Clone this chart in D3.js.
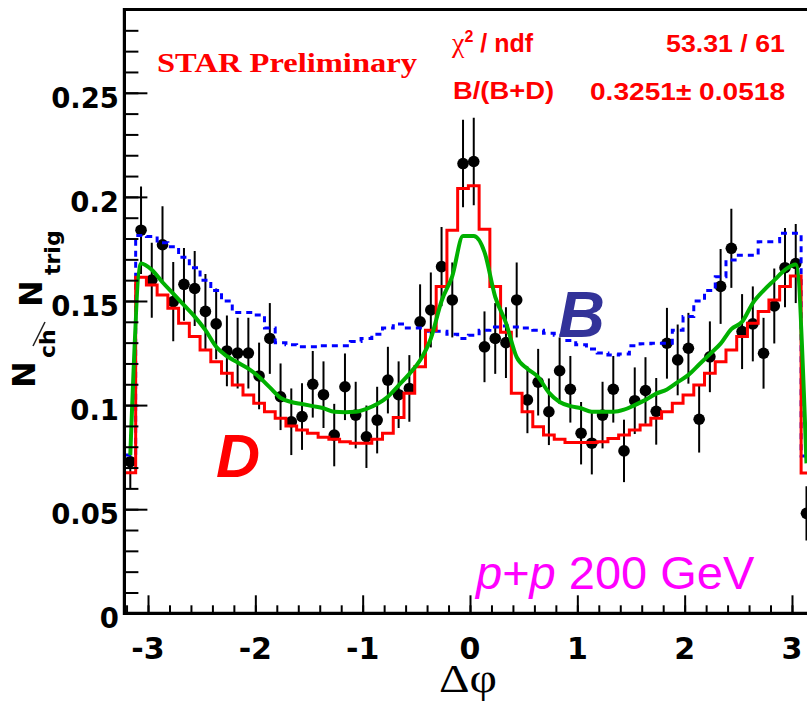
<!DOCTYPE html>
<html>
<head>
<meta charset="utf-8">
<script src="https://cdn.jsdelivr.net/npm/d3@7"></script>
<style>
  body { margin: 0; background: #fff; }
  svg { display: block; }
</style>
</head>
<body>
<div id="chart"></div>
<script>
// bin centres in delta phi (0.1 rad bins)
var phi = [-3.165, -3.065, -2.965, -2.865, -2.765, -2.665, -2.565, -2.465, -2.365, -2.265,
           -2.165, -2.065, -1.965, -1.865, -1.765, -1.665, -1.565, -1.465, -1.365, -1.265,
           -1.165, -1.065, -0.965, -0.865, -0.765, -0.665, -0.565, -0.465, -0.365, -0.265,
           -0.165, -0.065, 0.035, 0.135, 0.235, 0.335, 0.435, 0.535, 0.635, 0.735,
           0.835, 0.935, 1.035, 1.135, 1.235, 1.335, 1.435, 1.535, 1.635, 1.735,
           1.835, 1.935, 2.035, 2.135, 2.235, 2.335, 2.435, 2.535, 2.635, 2.735,
           2.835, 2.935, 3.035, 3.135];
var binW = 0.1;

// measured points + errors
var dataVal = [0.0728, 0.184, 0.160, 0.177, 0.1497, 0.158, 0.156, 0.145, 0.139, 0.126,
               0.125, 0.125, 0.114, 0.132, 0.104, 0.092, 0.0945, 0.110, 0.105, 0.0856,
               0.1088, 0.0952, 0.0848, 0.0928, 0.112, 0.105, 0.108, 0.140, 0.1457, 0.1665,
               0.1505, 0.216, 0.217, 0.128, 0.132, 0.130, 0.1505, 0.1025, 0.111, 0.0968,
               0.1165, 0.1076, 0.0865, 0.0817, 0.0952, 0.1076, 0.078, 0.1021, 0.107, 0.097,
               0.1297, 0.1217, 0.1273, 0.0932, 0.1232, 0.157, 0.1753, 0.1353, 0.139, 0.1249,
               0.1476, 0.166, 0.168, 0.048];
var dataErr = [0.013, 0.021, 0.018, 0.0185, 0.019, 0.0175, 0.018, 0.018, 0.017, 0.017,
               0.017, 0.017, 0.016, 0.017, 0.016, 0.016, 0.016, 0.016, 0.016, 0.015,
               0.016, 0.016, 0.015, 0.016, 0.016, 0.016, 0.016, 0.018, 0.018, 0.019,
               0.018, 0.021, 0.021, 0.017, 0.017, 0.017, 0.018, 0.016, 0.016, 0.016,
               0.016, 0.016, 0.015, 0.015, 0.016, 0.016, 0.015, 0.016, 0.016, 0.016,
               0.017, 0.017, 0.017, 0.016, 0.017, 0.018, 0.019, 0.018, 0.018, 0.017,
               0.018, 0.019, 0.019, 0.013];

// D component (red histogram)
var histD = [0.0675, 0.1614, 0.1577, 0.1529, 0.1465, 0.1393, 0.1329, 0.1265, 0.1208, 0.1153,
             0.1097, 0.1049, 0.1009, 0.0968, 0.0937, 0.0900, 0.0880, 0.0865, 0.0845, 0.0836,
             0.0824, 0.0817, 0.0817, 0.0836, 0.0865, 0.0940, 0.1057, 0.1184, 0.136, 0.157,
             0.184, 0.204, 0.2054, 0.1844, 0.157, 0.135, 0.1057, 0.0968, 0.0896, 0.0856,
             0.0836, 0.0820, 0.0820, 0.0820, 0.0824, 0.0840, 0.0856, 0.0880, 0.0904, 0.0937,
             0.0968, 0.1009, 0.1049, 0.1097, 0.1153, 0.1208, 0.1265, 0.1329, 0.1393, 0.1450,
             0.1505, 0.157, 0.162, 0.0674];

// B component (blue dashed histogram)
var histB = [0.076, 0.1815, 0.181, 0.178, 0.176, 0.171, 0.166, 0.160, 0.155, 0.150,
             0.1445, 0.1445, 0.1433, 0.137, 0.130, 0.129, 0.128, 0.128, 0.1285, 0.1285,
             0.1285, 0.1305, 0.132, 0.134, 0.137, 0.139, 0.137, 0.137, 0.1355, 0.1355,
             0.134, 0.132, 0.1335, 0.136, 0.1375, 0.138, 0.1375, 0.137, 0.136, 0.1345,
             0.1335, 0.131, 0.129, 0.127, 0.125, 0.124, 0.1245, 0.1285, 0.1295, 0.1297,
             0.1297, 0.136, 0.1425, 0.150, 0.155, 0.1617, 0.1697, 0.172, 0.172, 0.1785,
             0.1785, 0.1825, 0.1825, 0.0755];

// fit B+D (green)
var fitSum = [0.076, 0.168, 0.165, 0.159, 0.1535, 0.148, 0.1425, 0.136, 0.128, 0.1235,
              0.1205, 0.1175, 0.1135, 0.1085, 0.1035, 0.1015, 0.1005, 0.0995, 0.0985, 0.0968,
              0.0966, 0.0968, 0.0982, 0.1005, 0.104, 0.1095, 0.115, 0.1215, 0.132, 0.150,
              0.162, 0.1812, 0.1812, 0.1735, 0.152, 0.1395, 0.123, 0.1175, 0.1135, 0.106,
              0.1015, 0.0995, 0.0985, 0.0968, 0.0968, 0.0968, 0.0978, 0.100, 0.1025, 0.1055,
              0.1075, 0.111, 0.1145, 0.1195, 0.1245, 0.1295, 0.1365, 0.140, 0.149, 0.155,
              0.160, 0.165, 0.1675, 0.072];

var yTicks = [0, 0.05, 0.1, 0.15, 0.2, 0.25];
var yTickLabels = ["0", "0.05", "0.1", "0.15", "0.2", "0.25"];
var xTicks = [-3, -2, -1, 0, 1, 2, 3];
var xTickLabels = ["-3", "-2", "-1", "0", "1", "2", "3"];

var W = 807, H = 705;
var svg = d3.select("#chart").append("svg")
    .attr("width", W)
    .attr("height", H)
    .style("background", "#fff");

var x = d3.scaleLinear().domain([-3.22, 3.22]).range([124.4, 815.6]);
var y = d3.scaleLinear().domain([0, 0.29]).range([613.3, 9.5]);

svg.append("clipPath").attr("id", "plotclip")
  .append("rect")
    .attr("x", x.range()[0]).attr("y", y.range()[1])
    .attr("width", x.range()[1] - x.range()[0])
    .attr("height", y.range()[0] - y.range()[1]);

var plot = svg.append("g").attr("clip-path", "url(#plotclip)");

//data points with error bars
var pts = phi.map(function(p, i){ return {p: p, v: dataVal[i], e: dataErr[i]}; });
plot.append("g").selectAll("line")
    .data(pts).enter().append("line")
      .attr("x1", function(d){ return x(d.p); })
      .attr("x2", function(d){ return x(d.p); })
      .attr("y1", function(d){ return y(d.v - d.e); })
      .attr("y2", function(d){ return y(d.v + d.e); })
      .attr("stroke", "#000")
      .attr("stroke-width", 2);
plot.append("g").selectAll("circle")
    .data(pts).enter().append("circle")
      .attr("cx", function(d){ return x(d.p); })
      .attr("cy", function(d){ return y(d.v); })
      .attr("r", 5.8)
      .attr("fill", "#000");

// histogram outline as steps
function stepPath(vals) {
    var p = [];
    vals.forEach(function(v, i){
        p.push([x(phi[i] - binW / 2), y(v)]);
        p.push([x(phi[i] + binW / 2), y(v)]);
    });
    return d3.line()(p);
}

plot.append("path")
    .attr("d", stepPath(histB))
    .attr("fill", "none")
    .attr("stroke", "#0000ff")
    .attr("stroke-width", 3)
    .attr("stroke-dasharray", "6,5");

plot.append("path")
    .attr("d", stepPath(histD))
    .attr("fill", "none")
    .attr("stroke", "#ff0000")
    .attr("stroke-width", 3);

var fitLine = d3.line()
    .x(function(d, i){ return x(phi[i]); })
    .y(function(d){ return y(d); })
    .curve(d3.curveMonotoneX);
plot.append("path")
    .attr("d", fitLine(fitSum))
    .attr("fill", "none")
    .attr("stroke", "#00b000")
    .attr("stroke-width", 4);

// y ticks (inside the frame)
var yMinor = d3.range(0, 0.2901, 0.01);
var yAxMinor = svg.append("g")
    .attr("transform", "translate(" + x.range()[0] + ",0)")
    .call(d3.axisRight(y).tickValues(yMinor).tickSize(14).tickFormat(""));
var yAxMajor = svg.append("g")
    .attr("transform", "translate(" + x.range()[0] + ",0)")
    .call(d3.axisRight(y).tickValues(yTicks).tickSize(23).tickFormat(""));

// x ticks (inside the frame)
var xMinor = d3.range(-3.2, 3.21, 0.2);
var xAxMinor = svg.append("g")
    .attr("transform", "translate(0," + y.range()[0] + ")")
    .call(d3.axisTop(x).tickValues(xMinor).tickSize(8).tickFormat(""));
var xAxMajor = svg.append("g")
    .attr("transform", "translate(0," + y.range()[0] + ")")
    .call(d3.axisTop(x).tickValues(xTicks).tickSize(18).tickFormat(""));

[yAxMinor, yAxMajor, xAxMinor, xAxMajor].forEach(function(g){
    g.select(".domain").remove();
    g.selectAll(".tick line").attr("stroke", "#000").attr("stroke-width", 2);
});

// frame
svg.append("path")
    .attr("d", "M" + W + "," + y.range()[1] + "H" + x.range()[0] + "V" + y.range()[0] + "H" + W)
    .attr("fill", "none")
    .attr("stroke", "#000")
    .attr("stroke-width", 3.2);

// tick labels
svg.append("g").selectAll("text")
    .data(yTicks).enter().append("text")
      .attr("x", 119)
      .attr("y", function(d){ return y(d) + 15; })
      .attr("text-anchor", "end")
      .style("font-family", "'DejaVu Sans', sans-serif")
      .style("font-weight", "bold")
      .style("font-size", "27.5px")
      .text(function(d, i){ return yTickLabels[i]; });

svg.append("g").selectAll("text")
    .data(xTicks).enter().append("text")
      .attr("x", function(d){ return x(d); })
      .attr("y", 659)
      .attr("text-anchor", "middle")
      .style("font-family", "'DejaVu Sans', sans-serif")
      .style("font-weight", "bold")
      .style("font-size", "30px")
      .text(function(d, i){ return xTickLabels[i]; });

// axis titles
svg.append("text")
    .attr("x", 468)
    .attr("y", 692)
    .attr("text-anchor", "middle")
    .attr("textLength", 58).attr("lengthAdjust", "spacingAndGlyphs")
    .style("font-family", "'Liberation Serif', serif")
    .style("font-size", "39px")
    .text("\u0394\u03c6");

var yt = svg.append("g")
    .attr("transform", "translate(0,388) rotate(-90)")
    .style("font-family", "'DejaVu Sans', sans-serif")
    .style("font-weight", "bold");
yt.append("text").attr("x", 0).attr("y", 35).style("font-size", "32px").text("N");
yt.append("text").attr("x", 30).attr("y", 55).style("font-size", "22px").text("ch");
yt.append("text").attr("x", 81).attr("y", 42).style("font-size", "32px").text("N");
yt.append("text").attr("x", 113).attr("y", 60).style("font-size", "22px").text("trig");
svg.append("line")
    .attr("x1", 33).attr("y1", 346)
    .attr("x2", 45).attr("y2", 322)
    .attr("stroke", "#222")
    .attr("stroke-width", 1.5);

// annotations
svg.append("text")
    .attr("x", 157).attr("y", 72)
    .attr("textLength", 260).attr("lengthAdjust", "spacingAndGlyphs")
    .style("font-family", "'Liberation Serif', serif")
    .style("font-weight", "bold")
    .style("font-size", "28px")
    .attr("fill", "#ff0000")
    .text("STAR Preliminary");

var chi = svg.append("text")
    .attr("x", 452).attr("y", 52)
    .attr("fill", "#ff0000")
    .style("font-family", "'Liberation Sans', Arial, sans-serif")
    .style("font-weight", "bold")
    .style("font-size", "25px");
chi.append("tspan").style("font-family", "'Liberation Serif', serif").style("font-weight", "normal").style("font-size", "28px").text("\u03c7");
chi.append("tspan").attr("dy", -10).style("font-size", "16px").text("2");
chi.append("tspan").attr("dy", 10).text(" / ndf");

svg.append("text")
    .attr("x", 453).attr("y", 99)
    .attr("textLength", 101).attr("lengthAdjust", "spacingAndGlyphs")
    .attr("fill", "#ff0000")
    .style("font-family", "'Liberation Sans', Arial, sans-serif")
    .style("font-weight", "bold")
    .style("font-size", "24px")
    .text("B/(B+D)");

svg.append("text")
    .attr("x", 666).attr("y", 52)
    .attr("textLength", 119).attr("lengthAdjust", "spacingAndGlyphs")
    .attr("fill", "#ff0000")
    .style("font-family", "'Liberation Sans', Arial, sans-serif")
    .style("font-weight", "bold")
    .style("font-size", "24px")
    .text("53.31 / 61");

svg.append("text")
    .attr("x", 590).attr("y", 100)
    .attr("textLength", 195).attr("lengthAdjust", "spacingAndGlyphs")
    .attr("fill", "#ff0000")
    .style("font-family", "'Liberation Sans', Arial, sans-serif")
    .style("font-weight", "bold")
    .style("font-size", "24px")
    .text("0.3251\u00b1 0.0518");

svg.append("text")
    .attr("x", 558).attr("y", 337)
    .attr("fill", "#333399")
    .style("font-family", "'Liberation Sans', Arial, sans-serif")
    .style("font-weight", "bold")
    .style("font-style", "italic")
    .style("font-size", "65px")
    .text("B");

svg.append("text")
    .attr("x", 216).attr("y", 477)
    .attr("fill", "#ff0000")
    .style("font-family", "'Liberation Sans', Arial, sans-serif")
    .style("font-weight", "bold")
    .style("font-style", "italic")
    .style("font-size", "61px")
    .text("D");

var pp = svg.append("text")
    .attr("x", 476).attr("y", 589)
    .attr("fill", "#ff00ff")
    .style("font-family", "'Liberation Sans', Arial, sans-serif")
    .style("font-size", "47px");
pp.append("tspan").style("font-style", "italic").text("p");
pp.append("tspan").text("+");
pp.append("tspan").style("font-style", "italic").text("p");
pp.append("tspan").text(" 200 GeV");
</script>
</body>
</html>
